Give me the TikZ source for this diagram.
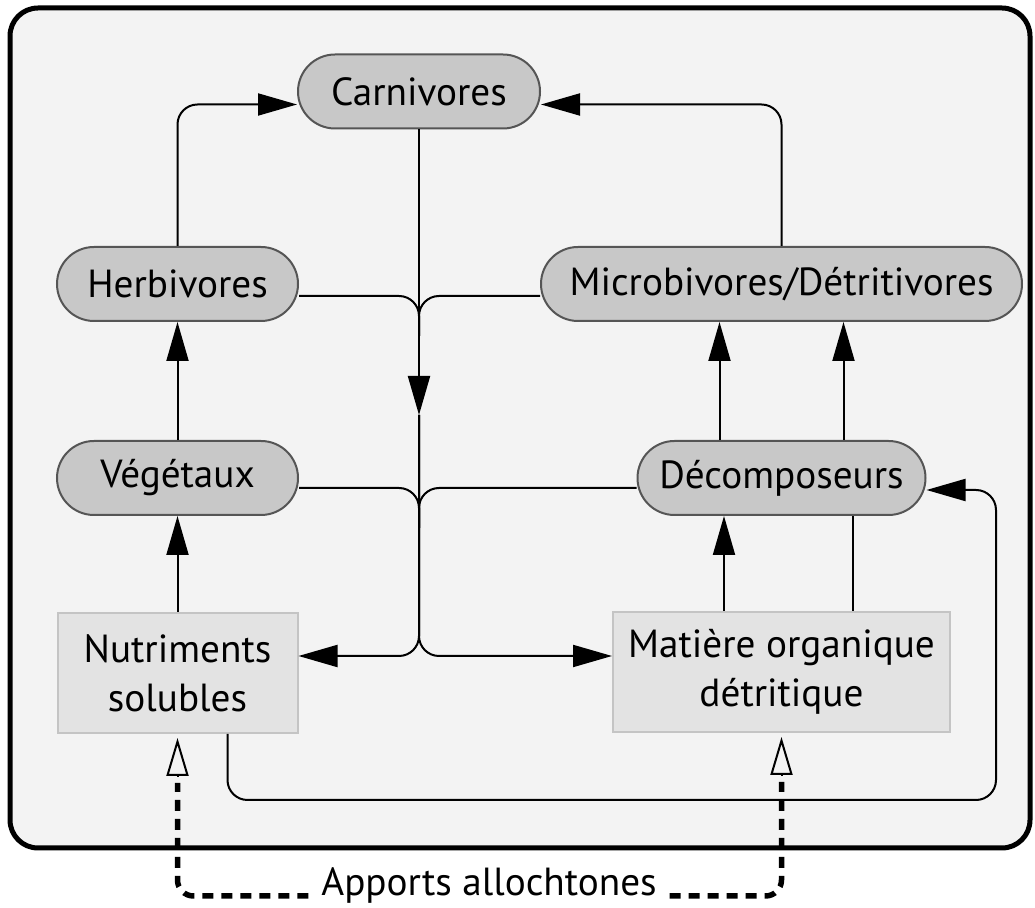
\documentclass[tikz,border=0pt]{standalone}
\usepackage{fontspec}
\setmainfont{PT Sans}
\usetikzlibrary{arrows.meta, positioning, calc}

\definecolor{frameFill}{HTML}{F3F3F3}
\definecolor{compFill}{HTML}{C8C8C8}
\definecolor{compDraw}{HTML}{555555}
\definecolor{poolFill}{HTML}{E3E3E3}
\definecolor{poolDraw}{HTML}{C4C4C4}

\begin{document}
\begin{tikzpicture}[
    x=0.5pt, y=-0.5pt,        % one unit = one pixel of the sketch
    >={Triangle[length=19.5pt, width=11pt]},  % filled arrow tips
    line width=1pt,
    rounded corners=10pt
  ]

  %--- Styles for compartments, pools and inputs ---
  \tikzset{
    compStyle/.style={rectangle, draw=compDraw, fill=compFill, line width=1pt,
    rounded corners=18.5pt, minimum height=37pt, inner sep=0pt,
    font=\fontsize{19.6}{23}\selectfont},
    poolStyle/.style={rectangle, draw=poolDraw, fill=poolFill, line width=1pt,
    rounded corners=0pt, minimum height=60pt, inner sep=0pt, align=center,
    font=\fontsize{19.6}{24.5}\selectfont},
    labelStyle/.style={inner sep=6pt, font=\fontsize{19.6}{23}\selectfont},
    frameStyle/.style={draw=black, fill=frameFill, line width=2.5pt,
    rounded corners=14pt},
    dashStyle/.style={line width=2.75pt, dash pattern=on 5.5pt off 4pt,
    rounded corners=8pt},
    openArrow/.style={-{Triangle[open, length=19pt, width=11pt]},
    rounded corners=0pt},
  }

  \useasboundingbox (0,0) rectangle (1035,908);
  \draw[frameStyle] (10,8) rectangle (1030,848);

  %------------------------------------------------------------------------------
  % 1) Left column: Herbivores, Vegetaux, Nutriments
  %------------------------------------------------------------------------------
  \node[compStyle, minimum width=121pt] (carn) at (419,91.5) {Carnivores};
  \node[compStyle, minimum width=120.5pt] (herb) at (177.5,284) {Herbivores};
  \node[compStyle, minimum width=120.5pt] (veg) [below=59pt of herb] {Végétaux};
  \node[poolStyle, minimum width=120pt] (nut) [below=48pt of veg]
  {Nutriments\\solubles};

  %------------------------------------------------------------------------------
  % 2) Right column: Microbivores, Decomposeurs, Matiere
  %------------------------------------------------------------------------------
  \node[compStyle, minimum width=240.5pt] (micro) [right=120.5pt of herb]
  {Microbivores/Détritivores};
  \node[compStyle, minimum width=144pt] (dec) [below=59pt of micro] {Décomposeurs};
  \node[poolStyle, minimum width=168.5pt] (mat) [below=47.5pt of dec]
  {Matière organique\\détritique};

  \node[labelStyle, anchor=base] (apports) at (489,896) {Apports allochtones};

  %------------------------------------------------------------------------------
  % Upward flows
  %------------------------------------------------------------------------------
  \draw[->] (nut) -- (veg);
  \draw[->] (veg) -- (herb);
  \draw[->] (herb.north) |- ($(carn.west)+(0,13)$);
  \draw[->] (micro.north) |- ($(carn.east)+(0,13)$);
  \draw[->] ($(dec.north)+(-62,0)$) -- ($(micro.south)+(-62,0)$);
  \draw[->] ($(dec.north)+(62,0)$) -- ($(micro.south)+(62,0)$);
  \draw[->] ($(mat.north)+(-57.5,0)$) -- ($(dec.south)+(-57.5,0)$);
  \draw ($(mat.north)+(71.5,0)$) -- ($(dec.south)+(71.5,0)$);

  %------------------------------------------------------------------------------
  % Central trunk down to the pools
  %------------------------------------------------------------------------------
  \coordinate (trunkMid) at (419,415);
  \coordinate (split) at (419,656);
  \coordinate (joinTop) at (419,296);
  \coordinate (joinMid) at (419,488);

  \draw[->] (carn) -- (trunkMid);
  \draw[->] (trunkMid) -- (split) -- (split -| nut.east);
  \draw[->] (trunkMid) -- (split) -- (split -| mat.west);

  \draw (joinTop -| herb.east) -- (joinTop) -- ++(0,40);
  \draw (joinTop -| micro.west) -- (joinTop) -- ++(0,40);
  \draw (joinMid -| veg.east) -- (joinMid) -- ++(0,40);
  \draw (joinMid -| dec.west) -- (joinMid) -- ++(0,40);

  % loop from Nutriments back to Decomposeurs
  \coordinate (loopCorner) at (996,800);
  \draw[->] ($(nut.south)+(50,0)$) |- (loopCorner) |- ($(dec.east)+(0,12)$);

  %------------------------------------------------------------------------------
  % Outside inputs (dashed)
  %------------------------------------------------------------------------------
  \coordinate (nutIn) at ($(nut.south)+(0,49)$);
  \coordinate (matIn) at ($(mat.south)+(0,49)$);
  \draw[dashStyle] (apports.base west) -| (nutIn);
  \draw[dashStyle] (apports.base east) -| (matIn);
  \draw[openArrow] ($(nut.south)+(0,43)$) -- ($(nut.south)+(0,4)$);
  \draw[openArrow] ($(mat.south)+(0,43)$) -- ($(mat.south)+(0,4)$);

\end{tikzpicture}
\end{document}
